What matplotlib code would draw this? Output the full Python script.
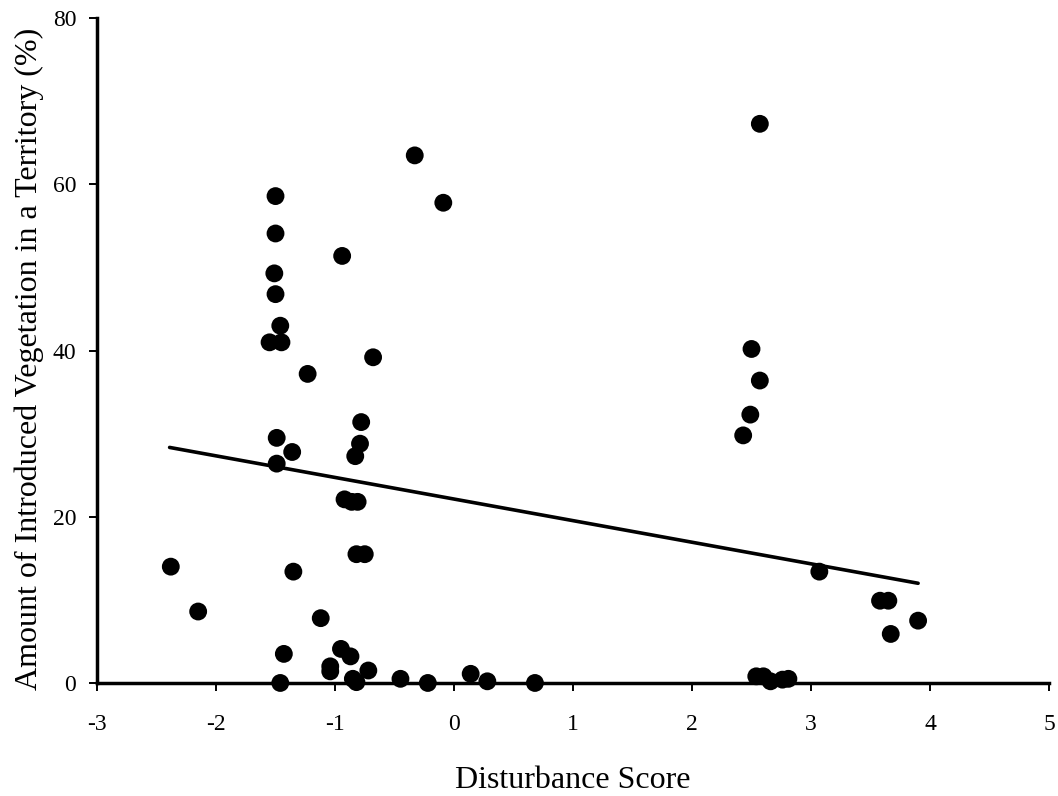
import numpy as np
import matplotlib
matplotlib.use("Agg")
import matplotlib.pyplot as plt

# Disturbance score (x) vs. introduced vegetation % (y)
disturbance = [
    -2.38, -2.15, -1.50, -1.50, -1.51, -1.50, -1.46, -1.55, -1.45, -1.49,
    -1.36, -1.49, -1.35, -1.43, -1.46, -1.23, -0.94, -0.33, -0.09, -0.68,
    -0.78, -0.79, -0.83, -0.92, -0.86, -0.81, -0.82, -0.75, -1.12, -0.95,
    -0.87, -1.04, -1.04, -0.72, -0.85, -0.82, -0.45, -0.22, 0.14, 0.28,
    0.68, 2.57, 2.50, 2.57, 2.49, 2.43, 3.07, 3.58, 3.65, 3.67, 3.90,
    2.54, 2.60, 2.66, 2.76, 2.81,
]
vegetation = [
    14.0, 8.6, 58.6, 54.1, 49.3, 46.8, 43.0, 41.0, 41.0, 29.5,
    27.8, 26.4, 13.4, 3.5, 0.0, 37.2, 51.4, 63.5, 57.8, 39.2,
    31.4, 28.8, 27.3, 22.1, 21.8, 21.8, 15.5, 15.5, 7.8, 4.1,
    3.2, 2.0, 1.4, 1.5, 0.5, 0.1, 0.5, 0.0, 1.1, 0.2,
    0.0, 67.3, 40.2, 36.4, 32.3, 29.8, 13.4, 9.9, 9.9, 5.9, 7.5,
    0.8, 0.8, 0.2, 0.4, 0.5,
]

# least-squares trend line as drawn in the figure (end points)
trend_x = [-2.39, 3.90]
trend_y = [28.35, 12.0]

plt.rcParams["font.family"] = ["Liberation Serif", "DejaVu Serif"]
plt.rcParams["axes.unicode_minus"] = False

fig = plt.figure(figsize=(10.58, 7.96), dpi=100)
ax = fig.add_axes([0.0917, 0.142, 0.8998, 0.835])

ax.scatter(disturbance, vegetation, s=165, color="black", edgecolors="none",
           zorder=3, clip_on=False)
ax.plot(trend_x, trend_y, color="black", linewidth=2.6, solid_capstyle="round",
        zorder=2)

ax.set_xlim(-3, 5)
ax.set_ylim(0, 80)
ax.set_xticks(np.arange(-3, 6, 1))
ax.set_yticks(np.arange(0, 81, 20))

for side in ["top", "right"]:
    ax.spines[side].set_visible(False)
for side in ["left", "bottom"]:
    ax.spines[side].set_linewidth(2.5)

ax.tick_params(axis="both", direction="out", length=6, width=1.4,
               labelsize=17, color="black")
ax.tick_params(axis="x", pad=16)
ax.tick_params(axis="y", pad=9)

ax.set_xlabel("Disturbance Score", fontsize=23, labelpad=23)
ax.set_ylabel("Amount of Introduced Vegetation in a Territory (%)",
              fontsize=23, labelpad=6, y=0.487)

fig.savefig("out.png", dpi=100)
